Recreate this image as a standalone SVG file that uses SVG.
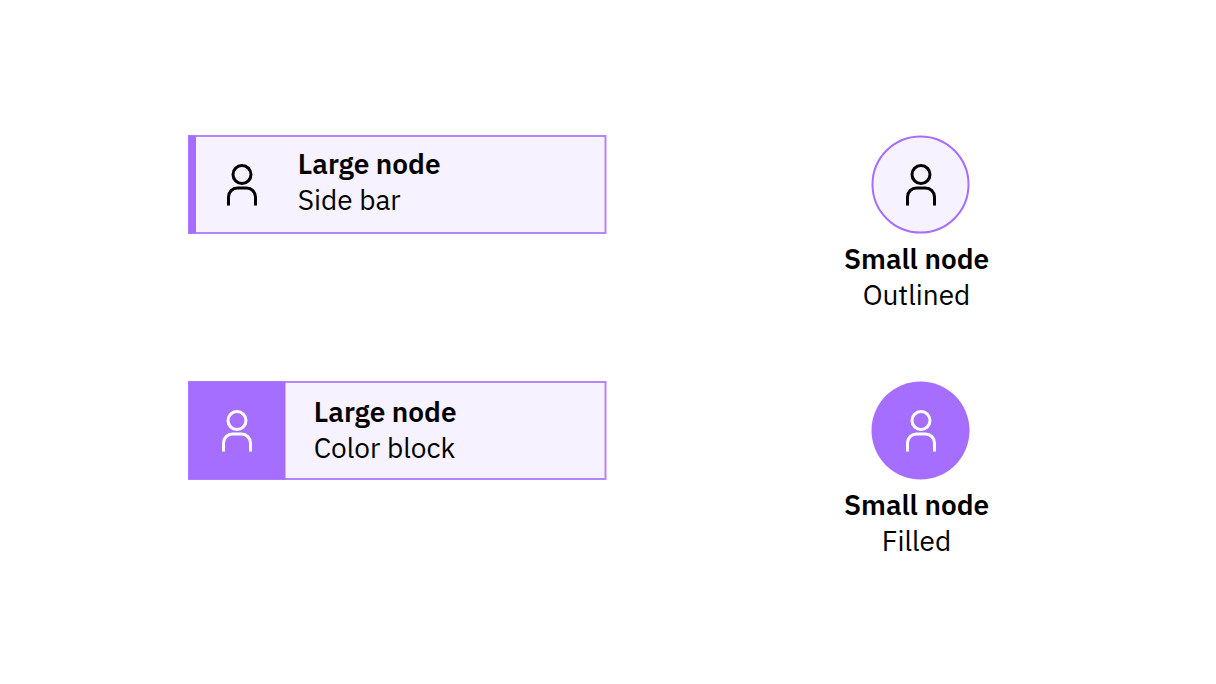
<svg xmlns="http://www.w3.org/2000/svg" width="1216" height="684" viewBox="0 0 1216 684">
<style>
.box{fill:#f6f2ff;stroke:#b386ff;stroke-width:2}
.ring{fill:#f6f2ff;stroke:#a56eff;stroke-width:2}
.solid{fill:#a56eff}
.t{font-family:"IBM Plex Sans","Inter","Noto Sans","Liberation Sans",sans-serif;font-size:28px;fill:#000}
.b{font-weight:600}
.m{text-anchor:middle}
.ic{fill:none;stroke:#000;stroke-width:3}
.w{stroke:#fff}
</style>
<defs><g id="person"><circle cx="0" cy="-8.500" r="9"/><path d="M-13.500 22.500V14a9 9 0 0 1 9-9H4.500a9 9 0 0 1 9 9V22.500"/></g></defs>
<rect width="1216" height="684" fill="#fff"/>
<g id="connectors"></g>
<g id="node-sidebar">
<rect class="box" x="189" y="136" width="416.500" height="97"/>
<rect class="solid" x="188.500" y="135.500" width="7.500" height="98"/>
<use href="#person" class="ic" x="242" y="183"/>
<text class="t b" x="297.700" y="173.500">Large node</text>
<text class="t" x="297.700" y="209.500">Side bar</text>
</g>
<g id="node-colorblock">
<rect class="box" x="189" y="382" width="416.500" height="97"/>
<rect class="solid" x="188.500" y="381.500" width="97" height="98"/>
<use href="#person" class="ic w" x="237" y="429"/>
<text class="t b" x="313.700" y="421.500">Large node</text>
<text class="t" x="313.700" y="457.500">Color block</text>
</g>
<g id="node-outlined">
<circle class="ring" cx="920.500" cy="184.500" r="48"/>
<use href="#person" class="ic" x="921" y="183"/>
<text class="t b m" x="916.500" y="269">Small node</text>
<text class="t m" x="916.500" y="305">Outlined</text>
</g>
<g id="node-filled">
<circle class="solid" cx="920.500" cy="430.500" r="49"/>
<use href="#person" class="ic w" x="921" y="429"/>
<text class="t b m" x="916.500" y="515">Small node</text>
<text class="t m" x="916.500" y="551">Filled</text>
</g>
</svg>
